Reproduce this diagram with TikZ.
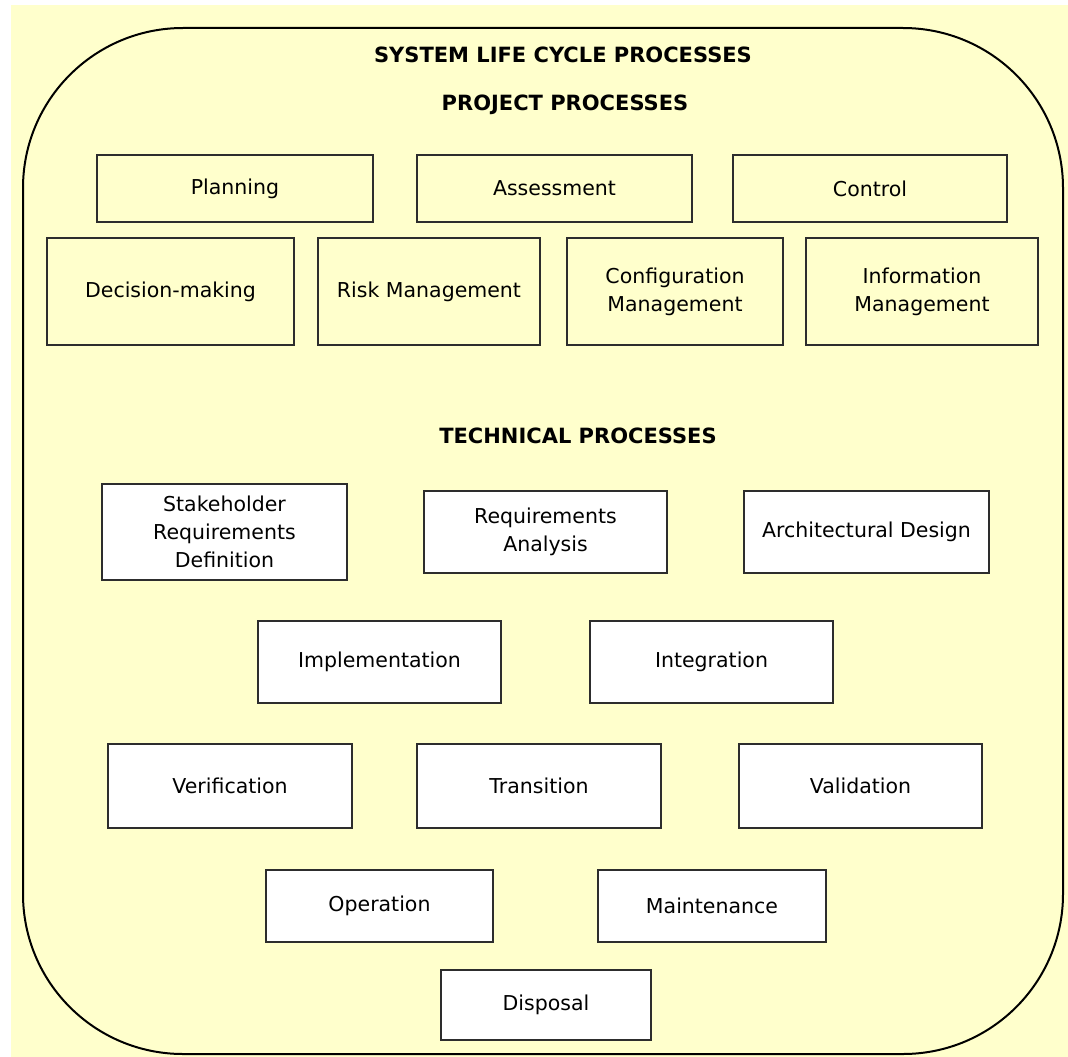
\documentclass[tikz,border=0pt]{standalone}
\usepackage{fontspec}
\setmainfont{DejaVu Sans}
\definecolor{paper}{RGB}{255,255,204}
\definecolor{edge}{RGB}{45,45,45}

\begin{document}
\begin{tikzpicture}[x=1pt,y=-1pt,
  proc/.style={draw=edge,line width=2pt,rectangle,inner sep=0pt,align=center,font=\fontsize{20.5}{28}\selectfont},
  proj/.style={proc,fill=paper},
  tech/.style={proc,fill=white},
  head/.style={font=\fontsize{21}{25}\selectfont\bfseries}]
\useasboundingbox (0,0) rectangle (1068,1057);
\fill[paper] (11,5) rectangle (1068,1057);
\draw[line width=2pt,rounded corners=160pt] (23,28) rectangle (1063,1054);

\node[head](h1) at (563,55) {SYSTEM LIFE CYCLE PROCESSES};
\node[head](h2) at (565,105) {PROJECT PROCESSES};
\node[head](h3) at (578,436) {TECHNICAL PROCESSES};

\node[proj,minimum width=276pt,minimum height=67pt](p1) at (235,188.5) {Planning};
\node[proj,minimum width=275pt,minimum height=67pt](p2) at (554.5,188.5) {Assessment};
\node[proj,minimum width=274pt,minimum height=67pt](p3) at (870,188.5) {Control};

\node[proj,minimum width=247pt,minimum height=107pt](p4) at (170.5,291.5) {Decision-making};
\node[proj,minimum width=222pt,minimum height=107pt](p5) at (429,291.5) {Risk Management};
\node[proj,minimum width=216pt,minimum height=107pt](p6) at (675,291.5) {Configuration\\Management};
\node[proj,minimum width=232pt,minimum height=107pt](p7) at (922,291.5) {Information\\Management};

\node[tech,minimum width=245pt,minimum height=96pt](t1) at (224.5,532) {Stakeholder\\Requirements\\Definition};
\node[tech,minimum width=243pt,minimum height=82pt](t2) at (545.5,532) {Requirements\\Analysis};
\node[tech,minimum width=245pt,minimum height=82pt](t3) at (866.5,532) {Architectural Design};

\node[tech,minimum width=243pt,minimum height=82pt](t4) at (379.5,662) {Implementation};
\node[tech,minimum width=243pt,minimum height=82pt](t5) at (711.5,662) {Integration};

\node[tech,minimum width=244pt,minimum height=84pt](t6) at (230,786) {Verification};
\node[tech,minimum width=244pt,minimum height=84pt](t7) at (539,786) {Transition};
\node[tech,minimum width=243pt,minimum height=84pt](t8) at (860.5,786) {Validation};

\node[tech,minimum width=227pt,minimum height=72pt](t9) at (379.5,906) {Operation};
\node[tech,minimum width=228pt,minimum height=72pt](t10) at (712,906) {Maintenance};

\node[tech,minimum width=210pt,minimum height=70pt](t11) at (546,1005) {Disposal};
\end{tikzpicture}
\end{document}
